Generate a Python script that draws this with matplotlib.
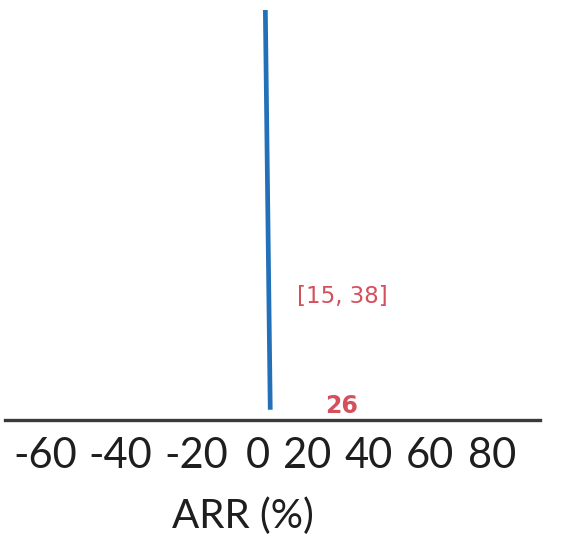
import numpy as np
import matplotlib
matplotlib.use("Agg")
import matplotlib.pyplot as plt

# data
tick_vals = [-60, -40, -20, 0, 20, 40, 60, 80]
tick_labels = ["-60", "-40", "-20", "0", "20", "40", "60", "80"]
line_x = [3, 5]          # the vertical blue line (slightly tilted in the scan)
line_y = [100, 2.5]
arr_point = 26
arr_ci = [15, 38]

# the printed axis is not evenly spaced, so map values through the label centres
anchor_vals = [-80] + tick_vals + [100]
anchor_px = [-25, 45, 120, 196, 258, 307, 369, 430, 492, 554]


def forward(v):
    return np.interp(v, anchor_vals, anchor_px)


def inverse(p):
    return np.interp(p, anchor_px, anchor_vals)


fig = plt.figure(figsize=(5.62, 5.36), dpi=100)
ax = fig.add_axes([5 / 562, 116 / 536, 535 / 562, 410 / 536])
ax.set_xscale("function", functions=(forward, inverse))
ax.set_xlim(inverse(5), inverse(540))
ax.set_ylim(0, 100)

ax.plot(line_x, line_y, color="#2270b8", lw=3.4, solid_capstyle="butt")

red = "#d4505c"
ax.text(31.5, 30, "[%d, %d]" % (arr_ci[0], arr_ci[1]), color=red,
        fontsize=16.5, ha="center", va="center", family="DejaVu Sans")
ax.text(31, 3.4, str(arr_point), color=red, fontsize=17, fontweight="bold",
        ha="center", va="center", family="DejaVu Sans")

for s in ["left", "top", "right"]:
    ax.spines[s].set_visible(False)
ax.spines["bottom"].set_color("#3a3a3a")
ax.spines["bottom"].set_linewidth(2.4)

ax.set_yticks([])
ax.set_xticks(tick_vals)
ax.set_xticklabels(tick_labels, fontsize=30, family="Lato", color="#1e1e1e")
ax.tick_params(axis="x", length=0, pad=12.5)

fig.text(243 / 562, 8 / 536, "ARR (%)", fontsize=29, family="Lato",
         color="#1e1e1e", ha="center", va="baseline")

fig.savefig("out.png", dpi=100)
